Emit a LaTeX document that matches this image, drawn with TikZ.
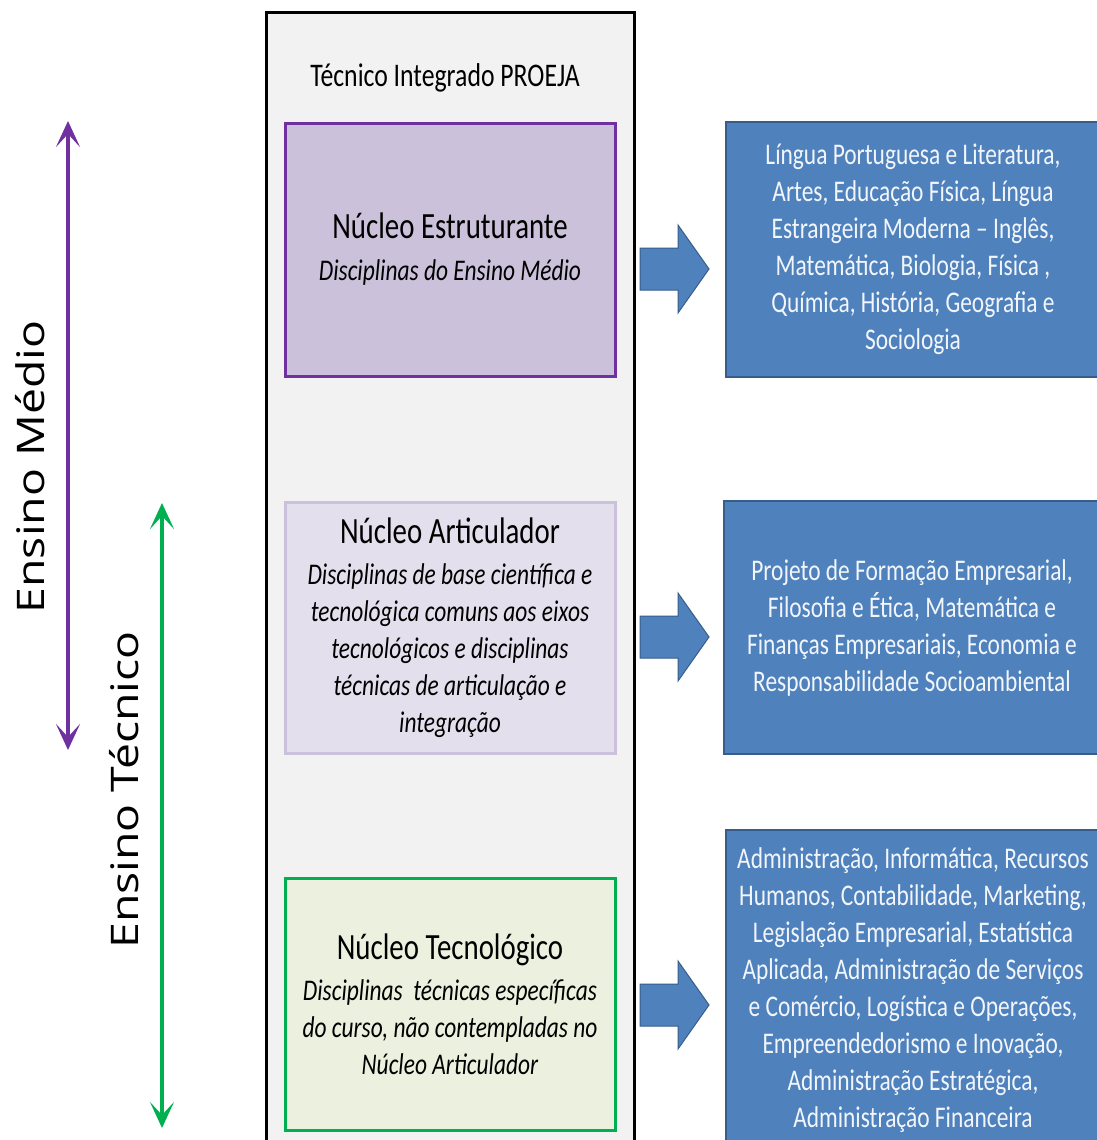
\documentclass[tikz,border=0pt]{standalone}
\usepackage{fontspec}
\setmainfont{Carlito}[FakeStretch=0.78]
\newfontfamily\rotulofont{Open Sans}[FakeStretch=1.22]
\usetikzlibrary{arrows.meta}

\definecolor{fundo}{HTML}{F2F2F2}
\definecolor{roxo}{HTML}{7030A0}
\definecolor{roxoclaro}{HTML}{CCC1DA}
\definecolor{lilas}{HTML}{E4DFEC}
\definecolor{verde}{HTML}{00B050}
\definecolor{verdeclaro}{HTML}{EBF1DE}
\definecolor{azul}{HTML}{4F81BD}
\definecolor{azulborda}{HTML}{385D8A}
\definecolor{textoazul}{HTML}{F2F6FB}

\tikzset{
  nucleo/.style={draw, line width=3pt, minimum width=330pt, align=center,
    font=\fontsize{30}{37}\selectfont},
  lista/.style={draw=azulborda, line width=2pt, fill=azul, text=textoazul,
    align=center, font=\fontsize{30}{37}\selectfont},
  seta/.style={fill=azul, draw=azulborda, line width=1pt},
  faixa/.style={line width=3.5pt, {Stealth[length=26pt,width=24pt,inset=13pt]}-{Stealth[length=26pt,width=24pt,inset=13pt]}},
  rotulo/.style={rotate=90, font=\rotulofont\fontsize{38}{44}\selectfont}
}
\newcommand{\titulo}[1]{{\fontsize{37}{44}\selectfont #1}}

\begin{document}
\begin{tikzpicture}[x=1pt,y=-1pt]
  \useasboundingbox (0,0) rectangle (1097,1140);
  \clip (0,0) rectangle (1097,1140);
  \fill[white] (0,0) rectangle (1097,1140);

  % moldura do curso
  \draw[line width=3pt, fill=fundo] (266,13) rectangle (634,1160);
  \node[font=\fontsize{33}{40}\selectfont] (curso) at (445,78) {Técnico Integrado PROEJA};

  % nucleos
  \node[nucleo, draw=roxo, fill=roxoclaro, minimum height=253pt] (estruturante) at (450,249.5)
    {\titulo{Núcleo Estruturante}\\[5pt] \textit{Disciplinas do Ensino Médio}};
  \node[nucleo, draw=roxoclaro, fill=lilas, minimum height=251pt] (articulador) at (450,627.5)
    {\titulo{Núcleo Articulador}\\[4pt] \textit{Disciplinas de base científica e}\\
     \textit{tecnológica comuns aos eixos}\\ \textit{tecnológicos e disciplinas}\\
     \textit{técnicas de articulação e}\\ \textit{integração}};
  \node[nucleo, draw=verde, fill=verdeclaro, minimum height=252pt] (tecnologico) at (450,1004)
    {\titulo{Núcleo Tecnológico}\\[4pt] \textit{Disciplinas\ \ técnicas específicas}\\
     \textit{do curso, não contempladas no}\\ \textit{Núcleo Articulador}};

  % listas de disciplinas
  \node[lista, minimum width=374pt, minimum height=255pt] (listaA) at (913,249.5)
    {Língua Portuguesa e Literatura,\\ Artes, Educação Física, Língua\\
     Estrangeira Moderna -- Inglês,\\ Matemática, Biologia, Física ,\\
     Química, História, Geografia e\\ Sociologia};
  \node[lista, minimum width=376pt, minimum height=253pt] (listaB) at (912,627.5)
    {Projeto de Formação Empresarial,\\ Filosofia e Ética, Matemática e\\
     Finanças Empresariais, Economia e\\ Responsabilidade Socioambiental};
  \node[lista, minimum width=374pt, minimum height=320pt] (listaC) at (913,990)
    {Administração, Informática, Recursos\\ Humanos, Contabilidade, Marketing,\\
     Legislação Empresarial, Estatística\\ Aplicada, Administração de Serviços\\
     e Comércio, Logística e Operações,\\ Empreendedorismo e Inovação,\\
     Administração Estratégica,\\ Administração Financeira};

  % setas largas
  \foreach \ay in {269,637,1005}
    \draw[seta] (640,\ay-21) -- (678,\ay-21) -- (678,\ay-44) -- (709,\ay)
      -- (678,\ay+44) -- (678,\ay+21) -- (640,\ay+21) -- cycle;

  % faixas de ensino
  \coordinate (medioA) at (68,121);
  \coordinate (medioB) at (68,750);
  \coordinate (tecnicoA) at (162,503);
  \coordinate (tecnicoB) at (162,1128);
  \draw[faixa, roxo] (medioA) -- (medioB);
  \draw[faixa, verde] (tecnicoA) -- (tecnicoB);
  \node[rotulo] (medio) at (30,467) {Ensino Médio};
  \node[rotulo] (tecnico) at (124,790) {Ensino Técnico};
\end{tikzpicture}
\end{document}
